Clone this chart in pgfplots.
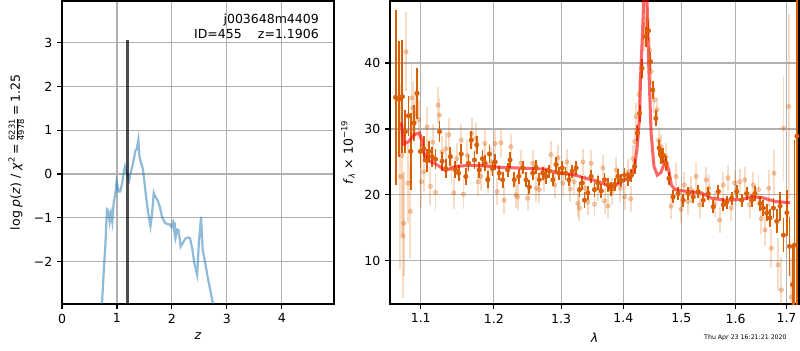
\documentclass[border=0pt]{standalone}
\usepackage{fontspec}
\setmainfont{DejaVu Sans}
\usepackage{amsmath}
\usepackage{pgfplots}
\pgfplotsset{compat=1.18}
\usepackage{pgfplotstable}
\definecolor{dorange}{HTML}{D95F02}
\definecolor{tabblue}{HTML}{1F77B4}
\definecolor{gridgray}{HTML}{B0B0B0}

\pgfplotstableread{
x y
0.70 -4
0.727 -2.98
0.764 -2.12
0.788 -1.66
0.818 -0.81
0.842 -0.84
0.867 -1.09
0.891 -0.90
0.915 -1.09
0.94 -0.67
0.97 -0.45
0.994 -0.18
1.03 -0.40
1.06 -0.40
1.10 -0.18
1.12 0.02
1.145 0.17
1.176 0.02
1.20 -0.05
1.224 -0.14
1.24 -0.02
1.28 0.17
1.31 0.36
1.34 0.55
1.36 0.56
1.39 0.78
1.41 0.40
1.44 0.24
1.47 0.13
1.50 -0.18
1.53 -0.52
1.57 -0.90
1.61 -1.19
1.64 -0.90
1.67 -0.43
1.70 -0.52
1.74 -0.60
1.78 -0.75
1.82 -0.98
1.87 -1.11
1.92 -1.15
1.96 -1.15
1.99 -1.21
2.02 -1.11
2.04 -1.28
2.05 -1.11
2.07 -1.44
2.10 -1.27
2.12 -1.28
2.16 -1.66
2.20 -1.57
2.25 -1.47
2.30 -1.45
2.33 -1.47
2.37 -1.70
2.41 -2.05
2.46 -2.31
2.49 -1.59
2.53 -0.98
2.56 -1.74
2.61 -2.05
2.65 -2.35
2.70 -2.66
2.75 -2.98
2.78 -4
}\pz

\pgfplotstableread{
x y e
1.0676 34.8 13.3
1.0719 34.5 8.8
1.0762 34.9 8.6
1.0800 29.6 3.3
1.0840 32.0 3.0
1.0870 26.6 5.8
1.0913 30.9 2.8
1.0952 35.4 3.9
1.0996 26.6 2.5
1.1040 27.0 2.0
1.1080 25.2 1.8
1.1106 26.6 1.6
1.1150 25.8 1.5
1.1195 25.4 1.5
1.1248 29.6 1.6
1.1283 25.1 1.4
1.1332 24.0 1.5
1.1395 25.8 1.4
1.1462 23.8 1.3
1.1507 23.3 1.2
1.1543 26.2 1.5
1.1606 22.8 1.3
1.1643 24.8 1.2
1.1681 28.3 1.4
1.1726 25.3 1.3
1.1758 27.6 1.4
1.1792 23.8 1.2
1.1838 25.5 1.3
1.1876 24.8 1.2
1.1913 22.3 1.3
1.1937 26.2 1.3
1.1980 24.0 1.2
1.2018 25.0 1.2
1.2077 23.3 1.1
1.2126 22.3 1.2
1.2199 23.8 1.1
1.2233 25.3 1.2
1.2295 22.3 1.1
1.2360 22.8 1.1
1.2419 24.1 1.0
1.2468 22.3 1.1
1.2517 21.2 1.1
1.2568 23.3 1.0
1.2617 24.2 1.1
1.2667 22.3 1.0
1.2718 23.3 1.0
1.2770 22.8 1.1
1.2820 23.6 1.0
1.2872 22.3 1.0
1.2923 24.6 1.1
1.2964 23.3 1.0
1.3016 24.1 1.1
1.3067 23.3 1.0
1.3121 22.3 1.0
1.3172 23.6 1.0
1.3235 24.1 1.1
1.3287 20.8 1.1
1.3330 21.8 1.0
1.3367 19.2 1.2
1.3420 20.3 1.1
1.3473 22.8 1.0
1.3527 20.8 1.1
1.3582 21.8 1.0
1.3636 20.6 1.0
1.3690 22.3 1.0
1.3746 21.5 1.0
1.3800 20.9 1.1
1.3855 21.6 1.0
1.3910 22.8 1.1
1.3965 22.2 1.0
1.4020 23.0 1.1
1.4078 22.4 1.0
1.4133 23.0 1.0
1.4189 24.3 1.1
1.4235 29.4 1.2
1.4273 32.4 1.3
1.4314 39.2 1.4
1.4387 44.0 1.5
1.4425 44.9 1.5
1.4458 40.2 1.4
1.4497 35.9 1.3
1.4552 31.6 1.2
1.4608 27.1 1.2
1.4648 25.8 1.1
1.4680 26.0 1.1
1.4730 24.8 1.1
1.4780 22.5 1.0
1.4854 19.7 1.0
1.4942 20.2 1.0
1.5032 19.2 1.0
1.5122 20.2 1.0
1.5213 19.7 1.0
1.5304 20.5 1.0
1.5396 19.2 1.0
1.5488 20.2 1.0
1.5581 18.2 1.0
1.5675 20.5 1.0
1.5768 18.5 1.0
1.5831 18.9 1.0
1.5925 19.5 1.0
1.6021 20.5 1.0
1.6117 19.2 1.0
1.6213 20.2 1.0
1.6310 19.2 1.0
1.6374 20.2 1.1
1.6472 18.7 1.1
1.6539 18.0 1.2
1.6604 17.3 1.3
1.6670 16.5 1.4
1.6738 18.0 1.5
1.6804 16.0 1.8
1.6871 18.3 2.2
1.6939 13.9 2.6
1.7007 17.3 3.5
1.7062 12.2 4.5
1.7123 6.4 6
1.7164 12.4 16
1.7211 28.9 30
}\dark

\pgfplotstableread{
x y e
1.0737 22.8 14
1.0760 26 12
1.0770 13.8 9.5
1.0779 15.7 8
1.0809 41.7 6
1.0835 21.8 6
1.0866 17.5 7
1.0880 34.7 5
1.0896 33.2 4
1.0922 32.3 3.5
1.0974 31.4 3
1.1009 22.0 4
1.1039 23.5 3
1.1083 30.3 3
1.1128 21.3 3
1.1160 28.0 2.8
1.1195 20.4 2.8
1.1229 33.6 2.8
1.1248 32.1 2.6
1.1283 26.5 2.5
1.1332 27.0 2.5
1.1373 29.1 2.5
1.1410 24.0 2.5
1.1440 20.3 2.4
1.1480 25.5 2.4
1.1543 28.3 2.4
1.1574 20.1 2.3
1.1628 26.0 2.3
1.1687 29.3 2.3
1.1742 28.6 2.3
1.1779 22.0 2.2
1.1816 22.8 2.2
1.1871 27.8 2.2
1.1917 22.5 2.2
1.1959 25.0 2.2
1.2019 27.8 2.1
1.2046 20.5 2.1
1.2100 27.9 2.1
1.2148 19.2 2.1
1.2245 27.3 2.0
1.2318 20.0 2.0
1.2343 19.7 2.0
1.2392 24.8 2.0
1.2491 19.5 2.0
1.2568 24.8 2.0
1.2620 21.0 2.0
1.2667 20.8 2.0
1.2740 22.5 2.0
1.2843 26.1 2.0
1.2900 21.5 2.0
1.2949 25.6 2.0
1.3027 21.8 2.0
1.3090 25.0 2.0
1.3141 20.9 2.0
1.3200 22.0 2.0
1.3262 18.7 2.0
1.3287 18.0 2.0
1.3341 25.0 2.0
1.3380 21.0 2.0
1.3420 18.9 2.0
1.3473 24.8 2.0
1.3527 18.6 2.0
1.3582 21.1 2.0
1.3664 24.1 2.0
1.3690 19.1 2.0
1.3746 18.3 2.0
1.3810 20.5 2.0
1.3883 23.8 2.0
1.3950 21.0 2.0
1.4020 19.7 2.0
1.4080 23.5 2.0
1.4122 19.4 2.0
1.4160 25.5 2.0
1.4189 28.1 2.0
1.4217 31.9 2.0
1.4263 35.2 2.0
1.4298 37.9 2.0
1.4347 44.0 2.2
1.4370 45.8 2.2
1.4404 46.5 2.2
1.4443 41.9 2.1
1.4469 38.7 2.0
1.4525 34.4 2.0
1.4571 32.9 2.0
1.4601 28.3 2.0
1.4643 27.3 2.0
1.4730 25.8 2.0
1.4819 18.3 2.0
1.4907 22.8 2.0
1.4996 17.8 2.0
1.5055 21.5 2.0
1.5120 19.0 2.0
1.5176 20.8 2.0
1.5267 22.8 2.0
1.5330 18.5 2.0
1.5451 22.3 2.0
1.5500 21.0 2.0
1.5605 18.6 2.0
1.5699 16.2 2.0
1.5767 21.5 2.0
1.5857 22.6 2.0
1.5920 18.0 2.0
1.5983 21.8 2.0
1.6078 22.0 2.0
1.6175 22.3 2.0
1.6270 18.5 2.0
1.6343 21.5 2.0
1.6441 20.8 2.2
1.6498 16.4 2.3
1.6572 14.7 2.5
1.6643 21.0 2.8
1.6696 11.9 3.0
1.6750 23.3 3.5
1.6830 9.4 4
1.6896 5.6 5
1.6939 30.1 8
1.7041 33.4 14
1.7100 4.5 6
}\faint

\pgfplotstableread{
x y
1.0750 31.0
1.0779 27.7
1.0844 28.1
1.0909 29.1
1.0983 29.4
1.1017 28.3
1.1039 26.4
1.1083 25.3
1.1195 24.7
1.1329 23.7
1.1465 24.3
1.1649 24.5
1.1883 24.4
1.2073 24.2
1.2543 24.0
1.2770 23.9
1.2949 23.3
1.3183 23.1
1.3394 22.5
1.3527 22.2
1.3717 21.6
1.3771 21.1
1.3854 21.3
1.3965 22.0
1.4133 22.8
1.4189 24.3
1.4235 27.5
1.4273 32.0
1.4290 38.0
1.4320 44.0
1.4342 49.4
1.4371 55.0
1.4400 49.4
1.4428 40.0
1.4470 29.3
1.4520 24.3
1.4577 23.0
1.4640 23.4
1.4719 25.3
1.4776 23.8
1.4823 21.5
1.4882 20.8
1.5122 20.5
1.5365 20.3
1.5550 19.5
1.5798 19.2
1.6117 19.3
1.6310 19.7
1.6506 19.6
1.6771 19.0
1.7074 18.8
}\model

\pgfplotsset{mpl/.style={
  scale only axis, height=218.16pt, anchor=south west,
  axis line style={line width=0.8pt},
  grid=major, major grid style={gridgray, line width=0.8pt},
  tick align=outside, major tick length=3.5pt,
  tick style={black, line width=0.8pt},
  tick pos=left, minor tick num=0,
  tick label style={font=\fontsize{9}{10.8}\selectfont},
  label style={font=\fontsize{9}{10.8}\selectfont},
}}

\begin{document}
\begin{tikzpicture}
\path[use as bounding box] (0,0) rectangle (576pt,252pt);
\begin{axis}[mpl, at={(44.64pt,33.12pt)}, width=195.84pt,
  xmin=0, xmax=4.95, ymin=-2.97, ymax=3.95,
  xtick={0,1,2,3,4}, xticklabels={0,1,2,3,4},
  ytick={-2,-1,0,1,2,3}, yticklabels={−2,−1,0,1,2,3},
  xlabel={\textit{z}},
  ylabel={log \textit{p}(\textit{z}) / \textit{χ}\textsuperscript{2}\,=\,$\frac{\text{6231}}{\text{4978}}$\,=\,1.25}]
\addplot[tabblue, opacity=0.5, line width=1.6pt] table[x=x,y=y] {\pz};
\addplot[black, opacity=0.7, line width=2.2pt] coordinates {(1.185,-3.5) (1.185,3.07)};
\node[anchor=east, font=\fontsize{9}{10.8}\selectfont, inner sep=0pt] at (rel axis cs:0.945,0.937) {j003648m4409};
\node[anchor=east, font=\fontsize{9}{10.8}\selectfont, inner sep=0pt] at (rel axis cs:0.945,0.891) {ID=455\hspace{1.3em}z=1.1906};
\end{axis}
\begin{axis}[mpl, at={(280.8pt,33.12pt)}, width=294.48pt,
  xmode=log, xmin=1.0605, xmax=1.7255, ymin=3.46, ymax=49.4,
  xtick={1.1,1.2,1.3,1.4,1.5,1.6,1.7}, xticklabels={1.1,1.2,1.3,1.4,1.5,1.6,1.7},
  minor xtick={},
  ytick={10,20,30,40}, yticklabels={10,20,30,40},
  xlabel={\textit{λ}},
  ylabel={\textit{f}\textsubscript{\textit{λ}} × 10\textsuperscript{−19}}]
\addplot[dorange, only marks, mark=*, mark size=1.6pt,
  mark options={solid, draw=none, fill=dorange, opacity=0.3},
  error bars/.cd, y dir=both, y explicit, error mark=none,
  error bar style={line width=1.4pt, dorange, opacity=0.22}]
  table[x=x, y=y, y error=e] {\faint};
\addplot[dorange, only marks, mark=*, mark size=1.6pt,
  mark options={solid, draw=none, fill=dorange},
  error bars/.cd, y dir=both, y explicit, error mark=none,
  error bar style={line width=1.3pt, dorange}]
  table[x=x, y=y, y error=e] {\dark};
\addplot[red, opacity=0.6, line width=2.2pt] table[x=x,y=y] {\model};
\end{axis}
\node[anchor=east, font=\fontsize{4.5}{5}\selectfont, inner sep=0pt] at (566.6pt,8.6pt) {Thu Apr 23 16:21:21 2020};
\end{tikzpicture}
\end{document}
